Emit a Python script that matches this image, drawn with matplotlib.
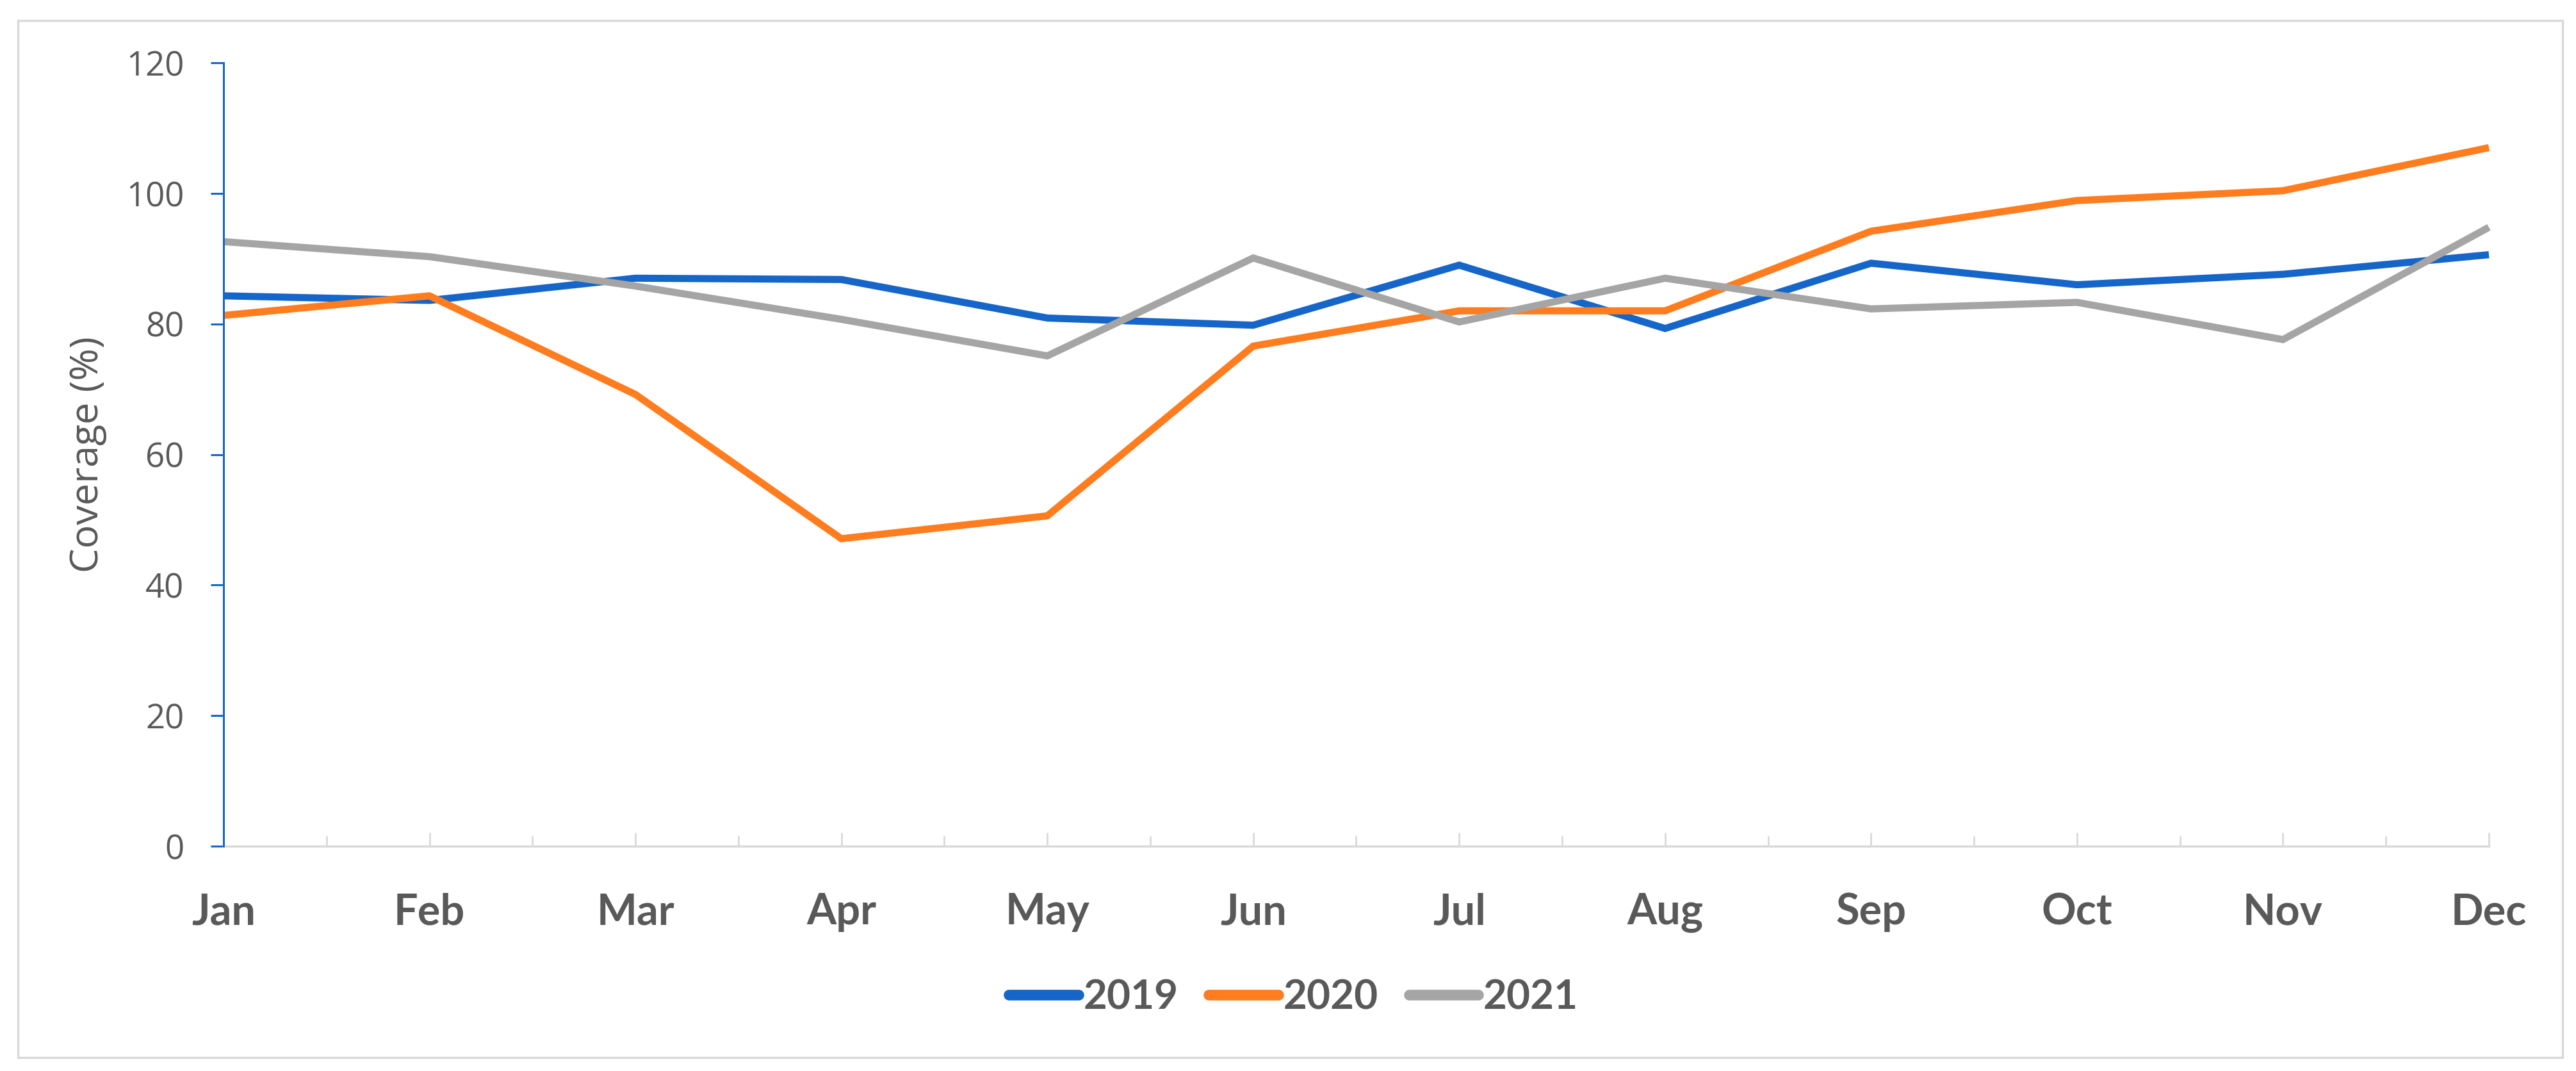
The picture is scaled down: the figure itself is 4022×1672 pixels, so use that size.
import numpy as np
import matplotlib
matplotlib.use("Agg")
import matplotlib.pyplot as plt
from matplotlib.patches import Rectangle

# data
months = ["Jan", "Feb", "Mar", "Apr", "May", "Jun",
          "Jul", "Aug", "Sep", "Oct", "Nov", "Dec"]
cov_2019 = [84.3, 83.6, 87.0, 86.8, 80.9, 79.8, 89.0, 79.3, 89.3, 86.0, 87.6, 90.6]
cov_2020 = [81.3, 84.3, 69.2, 47.1, 50.6, 76.6, 82.0, 82.0, 94.2, 98.9, 100.4, 107.0]
cov_2021 = [92.6, 90.3, 85.8, 80.7, 75.1, 90.1, 80.3, 87.0, 82.3, 83.3, 77.6, 94.8]
years = ["2019", "2020", "2021"]
colors = ["#1666c9", "#ff7d1f", "#a5a5a5"]

TXT = "#595959"

fig = plt.figure(figsize=(40.23, 16.72), dpi=100, facecolor="white")

# outer chart border
fig.patches.append(Rectangle((28 / 4023, 1 - 1651 / 1672), (4001 - 28) / 4023, (1651 - 32) / 1672,
                             transform=fig.transFigure, fill=False,
                             edgecolor="#d9d9d9", linewidth=2.5))

ax = fig.add_axes([349 / 4023, 1 - 1321 / 1672, (3886 - 349) / 4023, (1321 - 98) / 1672])

x = np.arange(len(months))
for vals, name, c in zip([cov_2019, cov_2020, cov_2021], years, colors):
    ax.plot(x, vals, color=c, linewidth=8, label=name, solid_joinstyle="miter",
            solid_capstyle="butt", clip_on=False)

ax.set_xlim(0, len(months) - 1)
ax.set_ylim(0, 120)

# spines
for s in ["top", "right"]:
    ax.spines[s].set_visible(False)
ax.spines["left"].set_color("#1666c9")
ax.spines["left"].set_linewidth(2.2)
ax.spines["bottom"].set_color("#d9d9d9")
ax.spines["bottom"].set_linewidth(2.5)
ax.spines["left"].set_zorder(5)

# y axis
ax.set_yticks(np.arange(0, 121, 20))
ax.tick_params(axis="y", direction="out", length=14.5, width=2.2, color="#1666c9",
               pad=30, labelsize=38, labelcolor=TXT)
for lab in ax.get_yticklabels():
    lab.set_family("Open Sans")
ax.set_ylabel("Coverage (%)", fontsize=44, color=TXT, family="Open Sans", labelpad=50)
ax.yaxis.set_label_coords(-0.0515, 0.5)

# x axis: long ticks at months, shorter ticks between
ax.set_xticks(x)
ax.set_xticklabels(months)
ax.set_xticks(x[:-1] + 0.5, minor=True)
ax.tick_params(axis="x", which="major", direction="in", length=15, width=2, color="#d9d9d9",
               pad=52, labelsize=48, labelcolor=TXT)
ax.tick_params(axis="x", which="minor", direction="in", length=11.5, width=2, color="#d9d9d9")
for lab in ax.get_xticklabels():
    lab.set_family("Lato")
    lab.set_fontweight("bold")

leg = fig.legend(loc="center", bbox_to_anchor=(0.502, 1 - 1557 / 1672), ncol=3,
                 frameon=False, handlelength=1.7, handletextpad=0.12, columnspacing=0.75,
                 prop={"family": "Lato", "weight": "bold", "size": 46})
for t in leg.get_texts():
    t.set_color(TXT)
for h in leg.get_lines():
    h.set_linewidth(12)
    h.set_solid_capstyle("round")

fig.savefig("out.png", dpi=100, facecolor="white")
